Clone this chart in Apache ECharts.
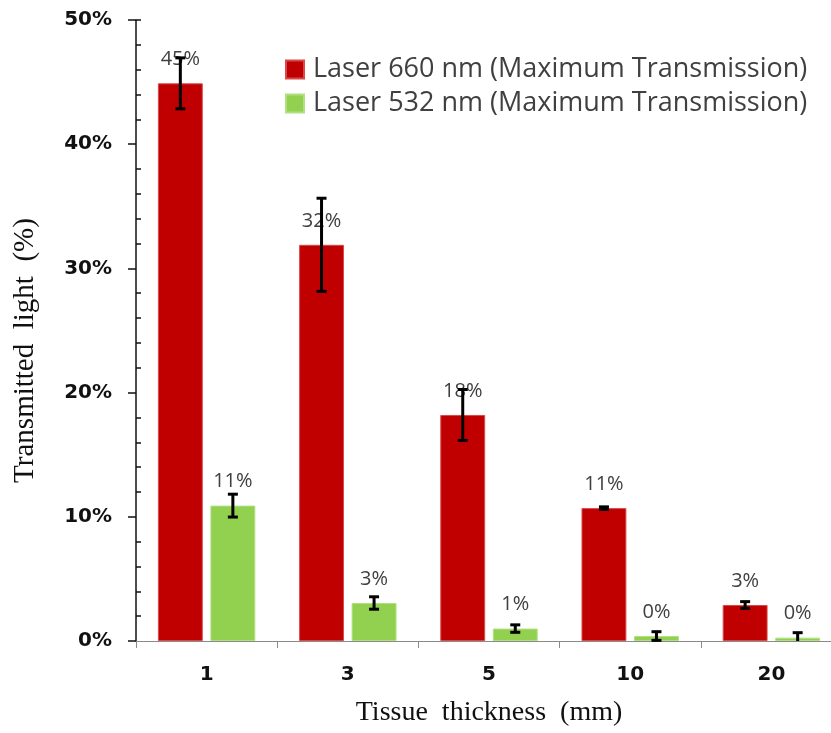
<!DOCTYPE html>
<html>
<head>
<meta charset="utf-8">
<script src="https://cdn.jsdelivr.net/npm/echarts@6/dist/echarts.min.js"></script>
<style>
html,body{margin:0;padding:0;background:#fff;}
#chart{width:831px;height:733px;}
</style>
</head>
<body>
<div id="chart"></div>
<script>
// ---- data ----
var categories = ['1', '3', '5', '10', '20'];
var seriesNames = ['Laser 660 nm (Maximum Transmission)', 'Laser 532 nm (Maximum Transmission)'];
var red660 = [44.9, 31.9, 18.2, 10.7, 2.9];
var red660Err = [2.05, 3.75, 2.05, 0.1, 0.27];
var green532 = [10.9, 3.06, 1.0, 0.4, 0.27];
var green532Err = [0.92, 0.5, 0.3, 0.35, 0.4];
var yTicks = [0, 10, 20, 30, 40, 50];
var minorTicks = [2, 4, 6, 8, 12, 14, 16, 18, 22, 24, 26, 28, 32, 34, 36, 38, 42, 44, 46, 48, 50];

var BAR_W = 0.318;   // fraction of band
var BAR_GAP = 0.17;  // fraction of bar width

function errData(vals, errs) {
  return vals.map(function (v, i) { return [i, v, errs[i]]; });
}

function makeErrRender(sign) {
  return function (params, api) {
    var idx = api.value(0);
    var v = api.value(1);
    var e = api.value(2);
    var band = api.size([1, 0])[0];
    var bw = band * BAR_W;
    var off = sign * bw * (1 + BAR_GAP) / 2;
    var c = api.coord([idx, v]);
    var x = c[0] + off;
    var hi = api.coord([idx, v + e])[1];
    var lowV = v - e;
    var lo = api.coord([idx, Math.max(lowV, 0)])[1];
    var capHalf = 5;
    var style = {stroke: '#000', lineWidth: 3};
    var children = [
      {type: 'line', shape: {x1: x, y1: hi, x2: x, y2: lo}, style: style},
      {type: 'line', shape: {x1: x - capHalf, y1: hi, x2: x + capHalf, y2: hi}, style: style}
    ];
    if (lowV >= 0) {
      children.push({type: 'line', shape: {x1: x - capHalf, y1: lo, x2: x + capHalf, y2: lo}, style: style});
    }
    return {type: 'group', children: children};
  };
}

var labelStyle = {
  show: true,
  position: 'top',
  distance: 14,
  color: '#404040',
  fontFamily: 'Open Sans',
  fontSize: 20,
  formatter: function (p) { return Math.round(p.value) + '%'; }
};

var chart = echarts.init(document.getElementById('chart'));
chart.setOption({
  animation: false,
  backgroundColor: '#ffffff',
  grid: {left: 136, width: 706, top: 20, bottom: 92, containLabel: false, outerBoundsMode: 'none'},
  legend: {
    orient: 'vertical',
    left: 285,
    top: 56,
    padding: 0,
    itemWidth: 18,
    itemHeight: 18,
    itemGap: 7,
    icon: 'rect',
    textStyle: {fontFamily: 'Open Sans', fontSize: 27, color: '#404040', lineHeight: 26, padding: [0, 0, 0, 4]},
    data: seriesNames
  },
  xAxis: {
    type: 'category',
    data: categories,
    name: 'Tissue  thickness  (mm)',
    nameLocation: 'middle',
    nameGap: 58,
    nameTextStyle: {fontFamily: 'Liberation Serif', fontSize: 28, color: '#111'},
    axisLine: {lineStyle: {color: '#8a8a8a', width: 1}},
    axisTick: {show: true, length: 7, lineStyle: {color: '#8a8a8a'}},
    axisLabel: {margin: 24, fontFamily: 'DejaVu Sans', fontWeight: 'bold', fontSize: 20, color: '#111'}
  },
  yAxis: [{
    type: 'value',
    min: 0,
    max: 50,
    interval: 10,
    name: 'Transmitted  light  (%)',
    nameLocation: 'middle',
    nameGap: 96,
    nameTextStyle: {fontFamily: 'Liberation Serif', fontSize: 29, color: '#111', padding: [0, 40, 0, 0]},
    axisLine: {show: true, lineStyle: {color: '#111', width: 1.5}},
    axisTick: {show: true, length: 8, lineStyle: {color: '#111', width: 1.5}},
    axisLabel: {margin: 24, fontFamily: 'DejaVu Sans', fontWeight: 'bold', fontSize: 20, color: '#111',
      formatter: function (v) { return v + '%'; }},
    splitLine: {show: false}
  }, {
    type: 'value',
    min: 0,
    max: 50,
    interval: 2,
    position: 'left',
    axisLine: {show: false},
    axisTick: {show: true, inside: true, length: 5, customValues: minorTicks, lineStyle: {color: '#111', width: 1.5}},
    axisLabel: {show: false},
    splitLine: {show: false}
  }],
  series: [{
    name: seriesNames[0],
    type: 'bar',
    data: red660,
    barWidth: (BAR_W * 100) + '%',
    barGap: (BAR_GAP * 100) + '%',
    itemStyle: {color: '#C00000', borderColor: '#d84a4a', borderWidth: 1},
    label: labelStyle,
    z: 2
  }, {
    name: seriesNames[1],
    type: 'bar',
    data: green532,
    barWidth: (BAR_W * 100) + '%',
    barGap: (BAR_GAP * 100) + '%',
    itemStyle: {color: '#92D050', borderColor: '#b0e080', borderWidth: 1},
    label: labelStyle,
    z: 2
  }, {
    type: 'custom',
    name: 'err660',
    data: errData(red660, red660Err),
    renderItem: makeErrRender(-1),
    encode: {x: 0, y: 1},
    z: 10,
    silent: true
  }, {
    type: 'custom',
    name: 'err532',
    data: errData(green532, green532Err),
    renderItem: makeErrRender(1),
    encode: {x: 0, y: 1},
    z: 10,
    silent: true
  }]
});
</script>
</body>
</html>
